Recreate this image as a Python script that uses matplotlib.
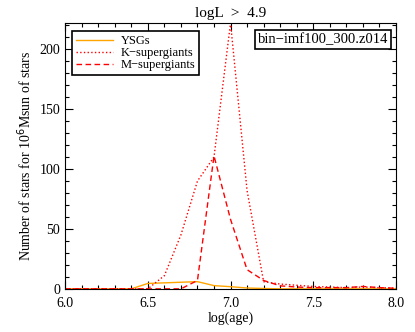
import matplotlib
matplotlib.use('Agg')
import matplotlib.pyplot as plt
from matplotlib.ticker import MultipleLocator

# log(age) grid of the model output
log_age = [6.0, 6.1, 6.2, 6.3, 6.4, 6.5, 6.6, 6.7, 6.8, 6.9, 7.0,
           7.1, 7.2, 7.3, 7.4, 7.5, 7.6, 7.7, 7.8, 7.9, 8.0]

# number of stars for 10^6 Msun of stars
ysgs = [0, 0, 0, 0, 0, 4.5, 5, 5.5, 6, 2.7, 1.8,
        0.7, 0.3, 0, 0, 0, 0, 0, 0, 0, 0]
k_sg = [0, 0, 0, 0, 0, 0, 11, 45, 90, 110, 222,
        82, 6, 4, 3, 2, 1.5, 1, 1.5, 1, 0.5]
m_sg = [0, 0, 0, 0, 0, 0, 0, 0, 7, 111, 58,
        16, 7, 2.5, 1.5, 1, 1, 1, 2, 1, 0.5]

plt.rcParams['font.family'] = ['Liberation Serif', 'DejaVu Serif']

fig = plt.figure(figsize=(4.15, 3.32), dpi=100)
ax = fig.add_axes([0.157, 0.13, 0.797, 0.801])

ax.plot(log_age, ysgs, color='#FFA500', lw=1.0, label='YSGs')
ax.plot(log_age, k_sg, color='red', lw=1.0, ls=':', label='K\u2212supergiants')
ax.plot(log_age, m_sg, color='red', lw=1.0, ls=(0, (4, 2.5)), label='M\u2212supergiants')

ax.set_xlim(6.0, 8.0)
ax.set_ylim(0, 222)
ax.xaxis.set_major_locator(MultipleLocator(0.5))
ax.xaxis.set_minor_locator(MultipleLocator(0.1))
ax.yaxis.set_major_locator(MultipleLocator(50))
ax.yaxis.set_minor_locator(MultipleLocator(10))
ax.xaxis.set_major_formatter(matplotlib.ticker.FormatStrFormatter('%.1f'))
ax.tick_params(which='both', direction='in', top=True, right=True,
               labelsize=10, width=0.8)
ax.tick_params(which='major', length=6)
ax.tick_params(which='minor', length=3)
ax.tick_params(axis='x', pad=6)
for s in ax.spines.values():
    s.set_linewidth(0.8)

ax.set_title('logL  >  4.9', fontsize=11, pad=4)
ax.set_xlabel('log(age)', fontsize=10, labelpad=1)
ax.set_ylabel(r'Number of stars for 10$^6$Msun of stars', fontsize=10, labelpad=4)

leg = ax.legend(loc='upper left', bbox_to_anchor=(0.02, 0.968), borderaxespad=0,
                fontsize=9, fancybox=False, edgecolor='black', framealpha=1,
                handlelength=3.0, labelspacing=0.0, borderpad=0.3,
                handletextpad=0.6)
leg.get_frame().set_linewidth(1.2)

ax.text(0.976, 0.962, 'bin\u2212imf100_300.z014', transform=ax.transAxes,
        ha='right', va='top', fontsize=10.5,
        bbox=dict(boxstyle='square,pad=0.2', fc='white', ec='black', lw=1.2))

fig.savefig('out.png', dpi=100)
